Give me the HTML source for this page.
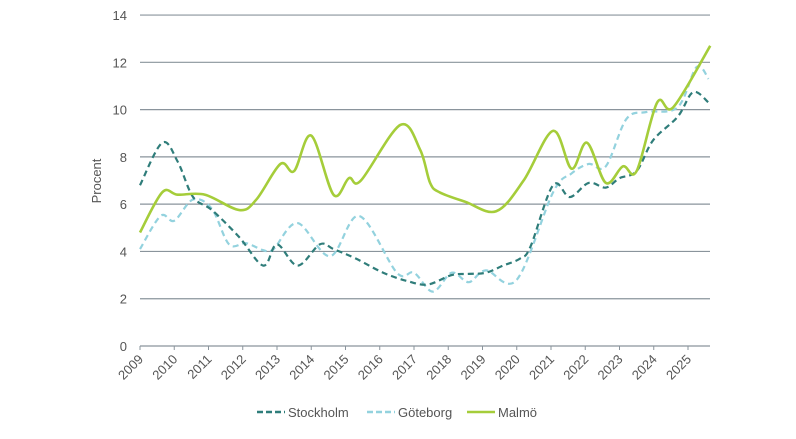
<!DOCTYPE html>
<html><head><meta charset="utf-8"><style>
body{margin:0;background:#fff;font-family:"Liberation Sans",sans-serif;}
svg text{font-family:"Liberation Sans",sans-serif;fill:#555;}
</style></head><body>
<svg id="chart" width="796" height="434" viewBox="0 0 796 434" xmlns="http://www.w3.org/2000/svg">
<g id="grid"></g>
<g id="yticks"></g>
<g id="xticks"></g>
<g id="series"></g>
<text x="0" y="0" transform="translate(101,181) rotate(-90)" text-anchor="middle" font-size="13">Procent</text>
<g font-size="13">
<g><line x1="257" y1="412" x2="285" y2="412" stroke="#2f7d7a" stroke-width="2.5" stroke-dasharray="6,3"/><text x="288" y="417">Stockholm</text></g>
<g><line x1="367" y1="412" x2="395" y2="412" stroke="#93d2de" stroke-width="2.5" stroke-dasharray="6,3"/><text x="398" y="417">Göteborg</text></g>
<g><line x1="467" y1="412" x2="495" y2="412" stroke="#a5cd3a" stroke-width="2.5"/><text x="498" y="417">Malmö</text></g>
</g>
</svg>
<script>
const years=[2009,2010,2011,2012,2013,2014,2015,2016,2017,2018,2019,2020,2021,2022,2023,2024,2025];
const yTicks=[0,2,4,6,8,10,12,14];
const stockholmT=[2009.0,2009.65,2010.1,2010.55,2011.1,2011.9,2012.6,2013.0,2013.6,2014.25,2014.65,2015.3,2016.1,2016.8,2017.4,2018.1,2018.6,2019.1,2019.6,2020.1,2020.4,2021.06,2021.55,2022.1,2022.6,2023.0,2023.5,2023.98,2024.7,2025.15,2025.6];
const stockholmV=[6.8,8.6,7.8,6.3,5.75,4.6,3.4,4.3,3.4,4.3,4.1,3.7,3.1,2.75,2.6,3.0,3.05,3.1,3.4,3.7,4.2,6.8,6.3,6.9,6.7,7.1,7.4,8.7,9.7,10.74,10.3];
const goteborgT=[2009.0,2009.6,2010.0,2010.55,2011.1,2011.6,2012.1,2012.6,2012.9,2013.6,2014.55,2015.4,2016.5,2017.0,2017.55,2018.1,2018.6,2019.1,2020.0,2021.06,2021.6,2022.1,2022.6,2023.2,2023.8,2024.7,2025.25,2025.6];
const goteborgV=[4.1,5.5,5.3,6.2,5.8,4.3,4.35,4.05,4.1,5.2,3.8,5.5,3.1,3.1,2.3,3.1,2.7,3.2,2.8,6.5,7.3,7.7,7.6,9.6,9.9,10.1,11.8,11.3];
const malmoT=[2009.0,2009.65,2010.1,2010.9,2011.9,2012.4,2013.1,2013.5,2014.0,2014.65,2015.1,2015.45,2016.6,2017.18,2017.47,2017.75,2018.5,2019.4,2020.2,2021.06,2021.6,2022.05,2022.6,2023.1,2023.5,2024.1,2024.57,2025.65];
const malmoV=[4.8,6.5,6.4,6.4,5.75,6.2,7.7,7.4,8.9,6.4,7.1,7.0,9.35,8.3,6.9,6.5,6.1,5.7,7.0,9.1,7.5,8.6,6.9,7.6,7.4,10.3,10.1,12.7];
const X0=140,XW=34.25,Y0=346,YU=23.64,XR=710;
const xs=t=>X0+(t-2009)*XW, ys=v=>Y0-v*YU;
const NS="http://www.w3.org/2000/svg";
function mk(tag,attrs,parent){const e=document.createElementNS(NS,tag);for(const k in attrs)e.setAttribute(k,attrs[k]);parent.appendChild(e);return e;}
const grid=document.getElementById('grid'),yt=document.getElementById('yticks'),xt=document.getElementById('xticks'),ser=document.getElementById('series');
yTicks.forEach(v=>{
 const l=mk('line',{x1:X0,x2:XR,y1:ys(v),y2:ys(v),stroke:v===0?'#8a949c':'#8a949c','stroke-width':1.2},grid);
 
 
 const t=mk('text',{x:127,y:ys(v)+5,'text-anchor':'end','font-size':13},yt);t.textContent=v;
 
 
});
years.forEach(y=>{
 const x=xs(y);
 const tk=mk('line',{x1:x,x2:x,y1:Y0,y2:Y0+4,stroke:'#8a949c','stroke-width':1},xt);
 
 
 const t=mk('text',{x:0,y:0,transform:`translate(${x+4},${Y0+14}) rotate(-45)`,'text-anchor':'end','font-size':13},xt);t.textContent=y;
 
 
});
function path(T,V){
 const p=T.map((t,i)=>[xs(t),ys(V[i])]);
 let d=`M${p[0][0]},${p[0][1]}`;
 for(let i=0;i<p.length-1;i++){
  const a=p[i-1]||p[i],b=p[i],c=p[i+1],e=p[i+2]||c;
  const c1=[b[0]+(c[0]-a[0])/6,b[1]+(c[1]-a[1])/6],c2=[c[0]-(e[0]-b[0])/6,c[1]-(e[1]-b[1])/6];
  d+=` C${c1[0]},${c1[1]} ${c2[0]},${c2[1]} ${c[0]},${c[1]}`;
 }
 return d;
}
const s1=mk('path',{d:path(goteborgT,goteborgV),fill:'none',stroke:'#93d2de','stroke-width':2.2,'stroke-dasharray':'6,4'},ser);


const s2=mk('path',{d:path(stockholmT,stockholmV),fill:'none',stroke:'#2f7d7a','stroke-width':2.2,'stroke-dasharray':'6,4'},ser);


const s3=mk('path',{d:path(malmoT,malmoV),fill:'none',stroke:'#a5cd3a','stroke-width':2.6},ser);


</script>
</body></html>
